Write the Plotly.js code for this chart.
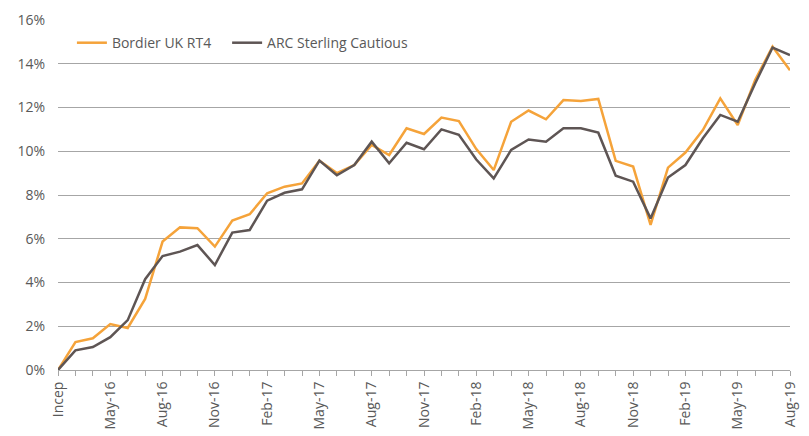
<!DOCTYPE html>
<html>
<head>
<meta charset="utf-8">
<script src="https://cdn.plot.ly/plotly-3.0.1.min.js"></script>
<style>html,body{margin:0;padding:0;background:#fff;}#chart{width:809px;height:436px;}</style>
</head>
<body>
<div id="chart"></div>
<script>
const months = ["Feb-16","Mar-16","Apr-16","May-16","Jun-16","Jul-16","Aug-16","Sep-16","Oct-16","Nov-16","Dec-16","Jan-17",
"Feb-17","Mar-17","Apr-17","May-17","Jun-17","Jul-17","Aug-17","Sep-17","Oct-17","Nov-17","Dec-17","Jan-18",
"Feb-18","Mar-18","Apr-18","May-18","Jun-18","Jul-18","Aug-18","Sep-18","Oct-18","Nov-18","Dec-18","Jan-19",
"Feb-19","Mar-19","Apr-19","May-19","Jun-19","Jul-19","Aug-19"];
const bordier = [0,1.28,1.45,2.1,1.92,3.25,5.87,6.52,6.48,5.64,6.83,7.12,
8.08,8.38,8.53,9.57,9.0,9.37,10.29,9.83,11.05,10.79,11.54,11.38,
10.1,9.14,11.35,11.86,11.46,12.34,12.3,12.39,9.56,9.3,6.63,9.25,
9.94,10.97,12.42,11.2,13.26,14.78,13.7];
const arc = [0,0.9,1.05,1.5,2.28,4.15,5.21,5.41,5.71,4.8,6.28,6.4,
7.74,8.1,8.26,9.57,8.9,9.37,10.44,9.45,10.39,10.09,11.0,10.75,
9.62,8.76,10.06,10.54,10.44,11.05,11.05,10.85,8.88,8.61,6.93,8.8,
9.37,10.59,11.66,11.35,13.1,14.74,14.4];
const tickLabels = months.map((m,i)=> i===0 ? "Incep" : (i%3===0 ? m : ""));
const seriesNames = ["Bordier UK RT4", "ARC Sterling Cautious"];

const data = [
  {x: months, y: bordier, type: 'scatter', mode: 'lines', name: seriesNames[0] + '\u00A0\u00A0\u00A0',
   line: {color: '#F5A33A', width: 2.5}},
  {x: months, y: arc, type: 'scatter', mode: 'lines', name: seriesNames[1],
   line: {color: '#5E5554', width: 2.5}}
];
const layout = {
  width: 809, height: 436,
  margin: {l: 58, r: 19, t: 20, b: 66},
  paper_bgcolor: '#fff', plot_bgcolor: '#fff',
  font: {family: 'Open Sans, sans-serif', size: 14, color: '#595959'},
  showlegend: true,
  legend: {orientation: 'h', x: 0.019, xanchor: 'left', y: 0.934, yanchor: 'middle',
           bgcolor: 'rgba(0,0,0,0)', font: {size: 14, color: '#595959'}},
  xaxis: {type: 'category', range: [0, 42], tickmode: 'array', tickvals: months, ticktext: tickLabels,
          tickangle: -90, ticks: 'outside', ticklen: 5, tickcolor: '#a6a6a6', showgrid: false,
          showline: true, linecolor: '#a6a6a6', linewidth: 1, zeroline: false,
          tickfont: {size: 14, color: '#595959'}},
  yaxis: {range: [0, 16], dtick: 2, ticksuffix: '%', showgrid: true, gridcolor: '#a6a6a6', gridwidth: 1,
          zeroline: false, showline: false, ticks: '', ticklabelstandoff: 12,
          tickfont: {size: 14, color: '#595959'}}
};
Plotly.newPlot('chart', data, layout, {displayModeBar: false, staticPlot: true});
</script>
</body>
</html>
